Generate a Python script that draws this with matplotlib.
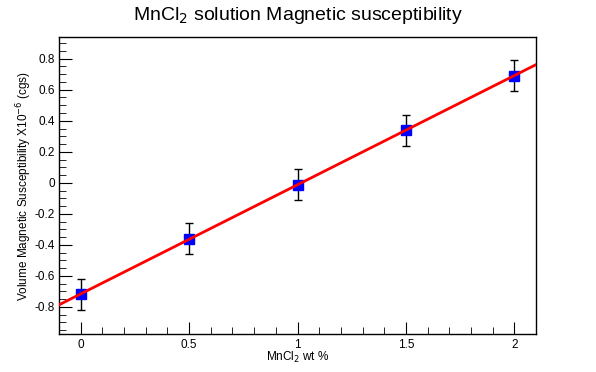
import matplotlib
matplotlib.use("Agg")
import matplotlib.pyplot as plt
import numpy as np
from matplotlib.ticker import MultipleLocator

plt.rcParams['font.family'] = ['Liberation Sans', 'DejaVu Sans']

conc = [0.0, 0.5, 1.0, 1.5, 2.0]
chi = [-0.72, -0.36, -0.013, 0.34, 0.69]
chi_err = [0.1, 0.1, 0.1, 0.1, 0.1]

fig = plt.figure(figsize=(5.96, 3.72), dpi=100)
ax = fig.add_axes([59/596, 1-334/372, (536-59)/596, (334-37)/372])

ax.errorbar(conc, chi, yerr=chi_err, fmt='none', ecolor='black', elinewidth=1, capsize=3, capthick=1, zorder=2)
ax.plot(conc, chi, 's', color='#0000ff', markersize=7, zorder=3)

slope, inter = np.polyfit(conc, chi, 1)
xl = np.array([-0.1, 2.1])
ax.plot(xl, slope*xl + inter, color='#ff0000', lw=2, zorder=4)

ax.set_xlim(-0.1, 2.1)
ax.set_ylim(-0.975, 0.94)
ax.xaxis.set_major_locator(MultipleLocator(0.5))
ax.xaxis.set_minor_locator(MultipleLocator(0.1))
ax.yaxis.set_major_locator(MultipleLocator(0.2))
ax.yaxis.set_minor_locator(MultipleLocator(0.05))
ax.tick_params(which='both', direction='in', top=False, right=False, labelsize=8.5)
ax.tick_params(axis='y', pad=3)
ax.tick_params(which='major', length=9)
ax.tick_params(which='minor', length=5)
ax.xaxis.set_major_formatter(matplotlib.ticker.FuncFormatter(lambda v, p: ('%g' % round(v, 2))))
ax.yaxis.set_major_formatter(matplotlib.ticker.FuncFormatter(lambda v, p: ('%g' % round(v, 2))))
for s in ax.spines.values():
    s.set_linewidth(1)

ax.set_xlabel('MnCl$_2$ wt %', fontsize=8.5, labelpad=-1)
ax.set_ylabel('Volume Magnetic Susceptibility X10$^{-6}$ (cgs)', fontsize=8.5)
ax.yaxis.set_label_coords(-0.053, 0.5)
fig.text(0.5, 1-16/372, 'MnCl$_2$ solution Magnetic susceptibility', ha='center', va='center', fontsize=14)

fig.savefig('out.png', dpi=100)
